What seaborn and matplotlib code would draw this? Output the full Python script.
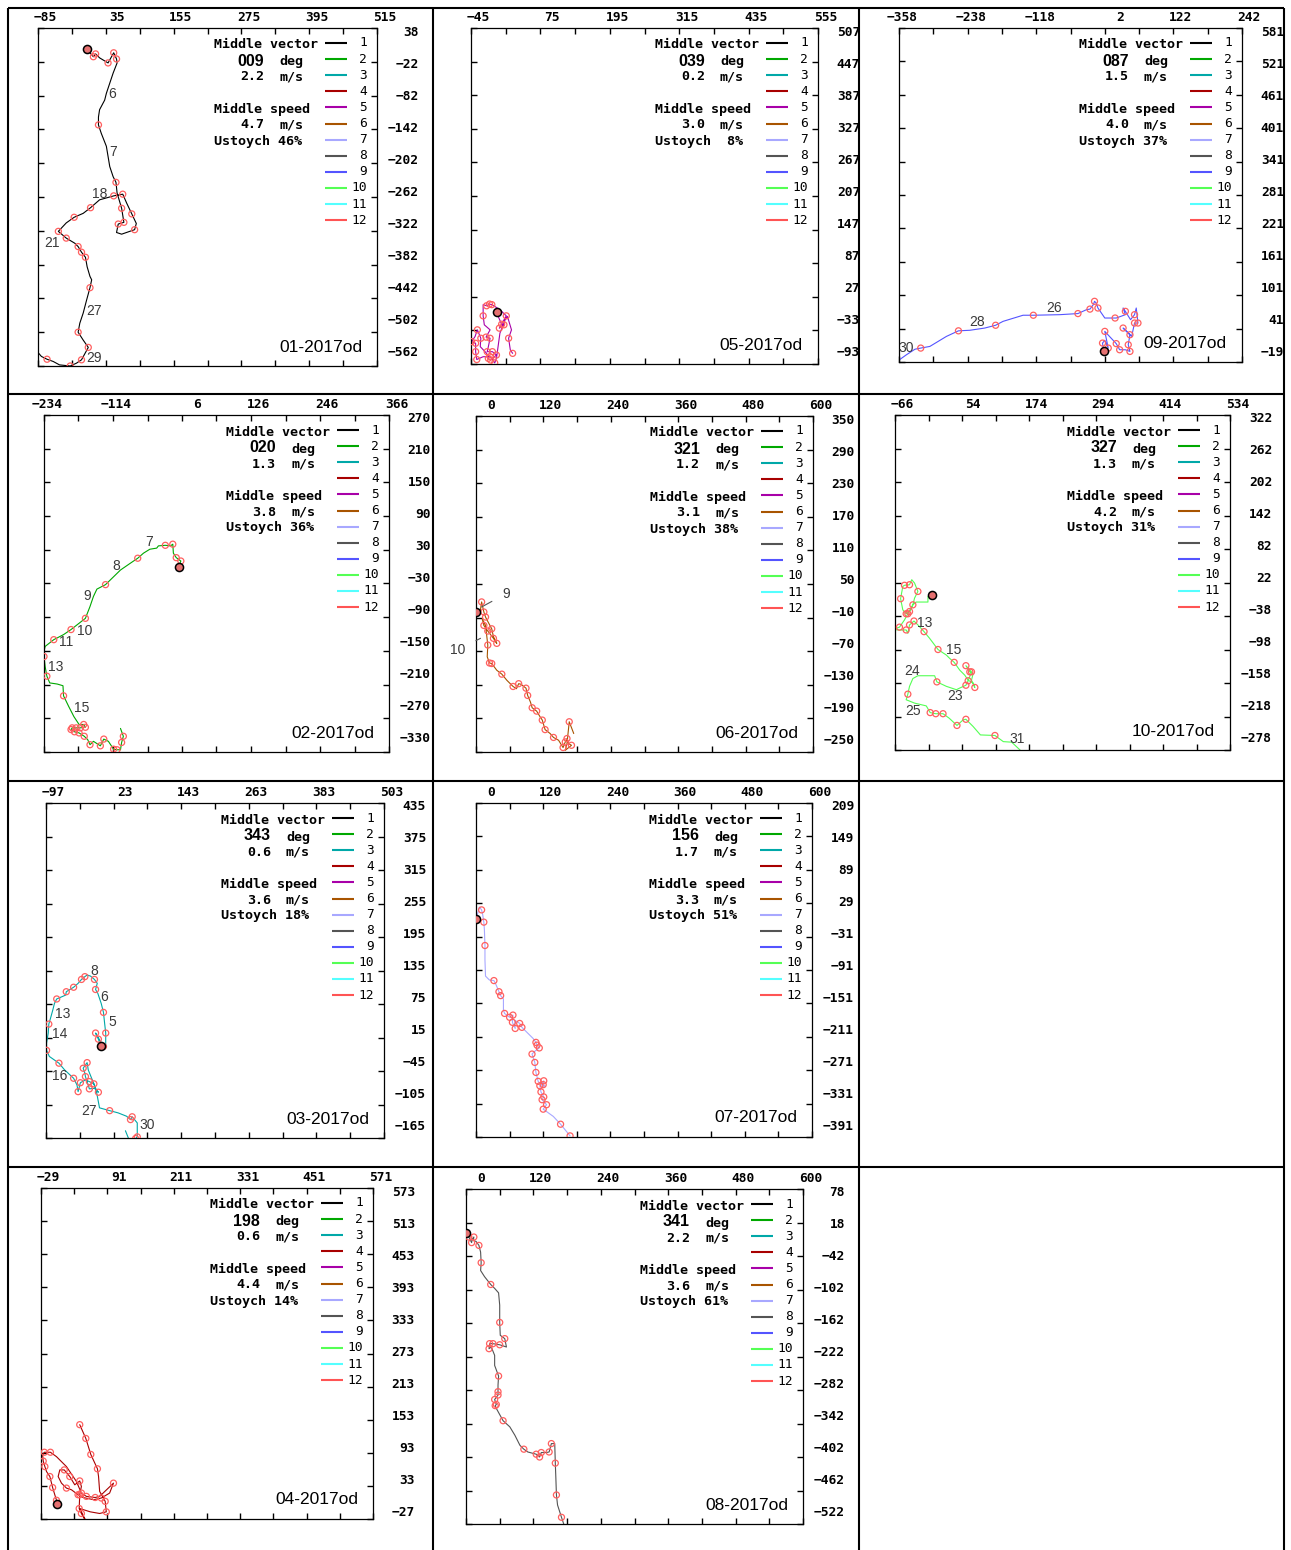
import matplotlib
matplotlib.use("Agg")
import matplotlib.pyplot as plt
from matplotlib import transforms as mtransforms
from matplotlib.patches import Rectangle
import seaborn as sns

# ---------------------------------------------------------------- data
MONTH_NAMES = [str(i) for i in range(1, 13)]
MONTH_COLORS = ["#000000", "#00a800", "#00a8a8", "#a80000", "#a800a8", "#a85400",
                "#a8a8ff", "#545454", "#5454ff", "#54ff54", "#54ffff", "#ff5454"]

PANEL_IDS = ["01", "05", "09", "02", "06", "10", "03", "07", "04", "08"]
PANEL_MONTH = [1, 5, 9, 2, 6, 10, 3, 7, 4, 8]
VECTOR_DIR = ["009", "039", "087", "020", "321", "327", "343", "156", "198", "341"]
VECTOR_SPEED = ["2.2", "0.2", "1.5", "1.3", "1.2", "1.3", "0.6", "1.7", "0.6", "2.2"]
MEAN_SPEED = ["4.7", "3.0", "4.0", "3.8", "3.1", "4.2", "3.6", "3.3", "4.4", "3.6"]
USTOYCH = [46, 8, 37, 36, 38, 31, 18, 51, 14, 61]
X_START = [-85, -45, -358, -234, 0, -66, -97, 0, -29, 0]
Y_TOP = [38, 507, 581, 270, 350, 322, 435, 209, 573, 78]
AXIS_SPAN = 600
AXIS_STEP = 60

# progressive vector tracks (km east, km north); DAILY marks the daily positions
TRACK01_X = [1, 13, 17, 24, 39, 49, 54, 55, 48, 42,
             36, 33, 24, 22, 22, 27, 36, 39, 42, 48,
             53, 55, 63, 67, 57, 54, 63, 86, 89, 81,
             72, 65, 49, 24, 8, -5, -21, -35, -49, -35,
             -20, -14, -8, -1, 2, 7, 10, 7, 1, -5,
             -11, -14, -5, 4, -2, -8, -17, -28, -47, -58,
             -69, -79, -85]
TRACK01_Y = [1, -13, -8, -15, -24, -6, -17, -24, -42, -60,
             -78, -90, -107, -120, -134, -149, -172, -190, -208, -226,
             -236, -255, -282, -307, -310, -325, -328, -320, -309, -292,
             -273, -257, -260, -267, -281, -291, -298, -308, -323, -335,
             -344, -350, -360, -369, -386, -403, -409, -423, -445, -468,
             -486, -502, -516, -529, -540, -551, -557, -562, -560, -554,
             -550, -545, -538]
TRACK01_DAILY = [0, 1, 1, 0, 1, 1, 1, 0, 0, 0,
                 0, 0, 0, 0, 1, 0, 0, 0, 0, 0,
                 1, 0, 1, 1, 1, 0, 0, 1, 0, 1,
                 0, 1, 1, 0, 1, 0, 1, 0, 1, 1,
                 0, 1, 1, 1, 0, 0, 0, 1, 0, 0,
                 0, 1, 0, 1, 0, 1, 0, 1, 0, 0,
                 1, 0, 0]
DAYS01 = ["6", "7", "18", "21", "27", "29"]
DAYS01_X = [46, 48, 24, -60, 14, 14]
DAYS01_Y = [-80, -182, -257, -344, -464, -548]

TRACK05_X = [0, 2, 8, 12, 4, 16, 5, -9, -13, -18,
             -24, -24, -22, -12, -19, -12, -15, -17, -8, -1,
             -11, -15, -18, -29, -28, -34, -38, -44, -37, -37,
             -35, -24, -12, -4, -1, 5, 14, 18, 25, 20,
             23, 27]
TRACK05_Y = [0, -8, -22, -23, -29, -7, 4, 13, 14, 11,
             13, -7, -23, -32, -45, -47, -62, -71, -71, -77,
             -86, -83, -74, -62, -47, -32, -44, -53, -56, -71,
             -85, -80, -80, -91, -83, -38, -14, -8, -32, -47,
             -68, -74]
TRACK05_DAILY = [0, 0, 1, 1, 1, 1, 0, 1, 1, 1,
                 0, 1, 0, 0, 1, 1, 0, 1, 1, 1,
                 1, 1, 0, 0, 1, 1, 0, 1, 1, 1,
                 1, 0, 1, 1, 0, 0, 0, 0, 0, 1,
                 0, 1]
DAYS05 = []
DAYS05_X = []
DAYS05_Y = []

TRACK09_X = [0, -2, 2, 8, 2, 22, 28, 38, 46, 43,
             46, 34, 49, 54, 60, 57, 54, 47, 38, 34,
             38, 22, 20, 2, -4, -10, -13, -16, -18, -24,
             -30, -45, -77, -123, -141, -176, -189, -208, -234, -254,
             -275, -304, -320, -330, -345, -360]
TRACK09_Y = [0, 15, 20, 6, 36, 14, 3, 3, 0, 12,
             30, 42, 27, 51, 51, 78, 66, 57, 72, 78,
             66, 60, 60, 60, 69, 78, 87, 90, 84, 76,
             75, 68, 66, 65, 65, 54, 47, 42, 38, 37,
             27, 9, 6, 4, -6, -17]
TRACK09_DAILY = [0, 1, 0, 1, 1, 1, 1, 0, 1, 1,
                 1, 1, 0, 1, 1, 0, 1, 0, 1, 0,
                 0, 0, 1, 0, 0, 1, 0, 1, 0, 1,
                 0, 1, 0, 1, 0, 0, 1, 0, 0, 1,
                 0, 0, 1, 0, 0, 0]
DAYS09 = ["26", "28", "30"]
DAYS09_X = [-87, -222, -345]
DAYS09_Y = [78, 52, 7]

TRACK02_X = [0, 4, -4, -9, -10, -14, -23, -35, -38, -50,
             -61, -71, -84, -101, -127, -142, -148, -154, -162, -177,
             -187, -200, -217, -232, -234, -234, -232, -229, -224, -211,
             -201, -200, -191, -182, -173, -165, -162, -171, -178, -185,
             -187, -181, -173, -164, -158, -154, -148, -136, -130, -122,
             -113, -107, -101, -99, -96, -101]
TRACK02_Y = [0, 10, 16, 24, 40, 37, 38, 37, 33, 31,
             24, 15, 6, -6, -32, -40, -53, -71, -92, -104,
             -112, -121, -130, -142, -151, -160, -178, -195, -207, -209,
             -212, -230, -249, -267, -281, -281, -286, -287, -287, -287,
             -290, -294, -296, -302, -308, -317, -311, -319, -307, -311,
             -325, -326, -326, -313, -302, -288]
TRACK02_DAILY = [0, 1, 1, 0, 1, 0, 1, 0, 0, 0,
                 0, 1, 0, 0, 1, 0, 0, 0, 1, 0,
                 1, 0, 1, 0, 0, 1, 0, 1, 0, 0,
                 0, 1, 0, 0, 0, 1, 1, 1, 1, 1,
                 1, 1, 1, 1, 0, 1, 0, 1, 1, 0,
                 1, 1, 0, 1, 1, 0]
DAYS02 = ["7", "8", "9", "10", "11", "13", "15"]
DAYS02_X = [-51, -108, -159, -163, -195, -214, -169]
DAYS02_Y = [43, 1, -52, -114, -134, -178, -251]

TRACK06_X = [0, 7, 10, 14, 17, 20, 28, 31, 37, 31,
             21, 14, 11, 17, 21, 20, 24, 28, 37, 46,
             55, 66, 72, 76, 80, 89, 92, 97, 100, 108,
             114, 118, 123, 132, 138, 147, 155, 159, 162, 165,
             170, 159, 162, 166, 174]
TRACK06_Y = [0, -2, 18, 0, -9, -15, -30, -44, -56, -47,
             -34, -24, -12, -24, -59, -80, -91, -92, -104, -111,
             -122, -133, -137, -128, -129, -136, -149, -161, -171, -177,
             -187, -193, -210, -217, -224, -229, -242, -232, -226, -235,
             -238, -247, -235, -196, -217]
TRACK06_DAILY = [0, 0, 1, 1, 1, 0, 1, 0, 1, 1,
                 1, 1, 0, 0, 1, 0, 1, 1, 0, 1,
                 0, 1, 0, 1, 0, 1, 1, 0, 1, 1,
                 0, 1, 1, 0, 1, 0, 1, 1, 1, 0,
                 1, 0, 0, 1, 0]
DAYS06 = ["9", "10"]
DAYS06_X = [54, -33]
DAYS06_Y = [33, -68]
CALLOUT06_X = [10, 8]
CALLOUT06_Y = [9, -47]

TRACK10_X = [0, -7, -7, -28, -34, -40, -46, -52, -56, -52,
             -49, -40, -36, -31, -25, -31, -34, -43, -49, -58,
             -64, -70, -60, -46, -43, -40, -32, -25, -14, -4,
             11, 26, 32, 40, 50, 59, 65, 74, 77, 71,
             74, 68, 61, 71, 65, 61, 50, 44, 26, 9,
             5, -25, -34, -40, -43, -46, -31, -10, -3, 7,
             20, 31, 45, 56, 61, 74, 87, 113, 128, 143,
             158]
TRACK10_Y = [0, -3, -13, -13, -18, -30, -34, -27, -7, 15,
             17, 18, 27, 21, 6, -6, -18, -34, -45, -58,
             -60, -62, -63, -63, -69, -54, -47, -54, -66, -78,
             -98, -108, -114, -121, -135, -144, -153, -158, -166, -153,
             -141, -138, -127, -138, -154, -162, -167, -170, -164, -156,
             -145, -145, -150, -164, -178, -188, -194, -199, -211, -213,
             -213, -221, -234, -224, -223, -236, -251, -252, -263, -264,
             -278]
TRACK10_DAILY = [0, 0, 0, 0, 1, 1, 1, 0, 1, 0,
                 1, 1, 0, 0, 1, 0, 0, 1, 0, 1,
                 0, 0, 0, 1, 0, 1, 1, 0, 1, 0,
                 1, 0, 0, 1, 0, 0, 0, 0, 1, 0,
                 0, 1, 1, 1, 1, 1, 0, 0, 0, 1,
                 0, 0, 0, 0, 1, 0, 0, 0, 1, 1,
                 1, 0, 1, 0, 1, 0, 0, 1, 0, 0,
                 0]
DAYS10 = ["13", "15", "24", "23", "25", "31"]
DAYS10_X = [-12, 39, -35, 41, -33, 152]
DAYS10_Y = [-50, -99, -136, -181, -208, -258]

TRACK03_X = [0, -4, -9, -2, 5, 9, 9, 7, 5, 1,
             -5, -9, -6, -11, -18, -24, -28, -34, -40, -48,
             -61, -62, -78, -82, -85, -88, -92, -93, -96, -96,
             -91, -74, -64, -48, -42, -40, -36, -27, -20, -12,
             -8, -4, -11, -20, -27, -28, -31, -27, -24, -22,
             -12, -8, -2, 16, 31, 46, 53, 56, 65, 65,
             62, 52, 44]
TRACK03_Y = [0, 12, 23, 11, -1, 2, 23, 41, 60, 76,
             94, 101, 112, 119, 125, 127, 124, 119, 112, 105,
             97, 91, 84, 76, 64, 53, 39, 23, 5, -8,
             -19, -31, -43, -58, -70, -82, -66, -61, -64, -68,
             -79, -83, -76, -77, -55, -49, -40, -34, -30, -43,
             -68, -79, -111, -116, -120, -126, -132, -127, -138, -163,
             -166, -172, -152]
TRACK03_DAILY = [0, 1, 1, 0, 1, 0, 1, 0, 1, 0,
                 0, 1, 0, 1, 0, 0, 1, 1, 0, 1,
                 1, 0, 1, 0, 0, 0, 1, 0, 0, 1,
                 0, 1, 0, 1, 0, 1, 1, 0, 1, 0,
                 0, 1, 0, 1, 1, 0, 1, 0, 1, 0,
                 1, 0, 0, 1, 0, 0, 1, 1, 0, 1,
                 1, 0, 0]
DAYS03 = ["8", "6", "5", "13", "14", "16", "27", "30"]
DAYS03_X = [-12, 7, 21, -68, -73, -72, -20, 83]
DAYS03_Y = [135, 87, 42, 57, 21, -54, -116, -142]

TRACK07_X = [0, 4, 6, 10, 12, 14, 15, 16, 16, 17,
             24, 32, 36, 41, 44, 49, 49, 51, 60, 66,
             65, 70, 69, 78, 82, 90, 102, 107, 109, 113,
             105, 100, 105, 107, 111, 117, 121, 120, 124, 114,
             116, 121, 118, 126, 120, 138, 151, 168]
TRACK07_Y = [0, 14, 22, 17, 8, -5, -19, -47, -73, -102,
             -109, -110, -118, -130, -137, -143, -163, -169, -176, -172,
             -185, -196, -181, -187, -194, -202, -214, -221, -226, -231,
             -237, -242, -257, -275, -291, -297, -290, -297, -300, -299,
             -310, -319, -324, -333, -341, -354, -368, -389]
TRACK07_DAILY = [0, 0, 0, 1, 0, 1, 0, 1, 0, 0,
                 0, 1, 0, 1, 1, 0, 0, 1, 1, 1,
                 1, 1, 0, 1, 1, 0, 0, 1, 1, 1,
                 0, 1, 1, 1, 1, 0, 1, 1, 0, 1,
                 1, 1, 1, 1, 1, 0, 1, 1]
DAYS07 = []
DAYS07_X = []
DAYS07_Y = []

TRACK04_X = [0, -1, -5, -8, -13, -19, -22, -25, -26, -23,
             -12, -1, 17, 35, 44, 53, 69, 77, 102, 95,
             80, 66, 47, 38, 26, 17, 8, 2, 5, 13,
             23, 32, 41, 44, 41, 40, 44, 49, 53, 41,
             60, 77, 89, 87, 77, 75, 73, 61, 52, 41]
TRACK04_Y = [0, 7, 20, 30, 50, 59, 68, 78, 89, 94,
             94, 86, 68, 41, 20, 14, 12, 14, 38, 20,
             11, 8, 12, 17, 26, 29, 38, 50, 62, 62,
             50, 35, 42, 32, 17, -8, -17, -26, -32, -8,
             -14, -17, -14, 5, 23, 50, 64, 90, 119, 144]
TRACK04_DAILY = [0, 1, 0, 1, 1, 0, 1, 1, 0, 1,
                 1, 0, 0, 0, 1, 1, 1, 0, 1, 0,
                 1, 0, 0, 1, 0, 1, 0, 0, 0, 1,
                 1, 0, 1, 0, 1, 1, 1, 0, 0, 0,
                 0, 0, 1, 1, 0, 0, 1, 1, 1, 1]
DAYS04 = []
DAYS04_X = []
DAYS04_Y = []

TRACK08_X = [0, 5, 10, 11, 14, 13, 18, 23, 26, 27,
             26, 33, 44, 51, 58, 60, 60, 61, 69, 72,
             60, 48, 42, 41, 45, 51, 51, 58, 57, 57,
             57, 51, 54, 52, 54, 66, 78, 87, 96, 103,
             110, 125, 131, 134, 143, 148, 152, 158, 159, 160,
             161, 163, 170, 175]
TRACK08_Y = [0, -8, -18, -12, -8, -14, -16, -23, -35, -54,
             -68, -79, -93, -100, -108, -130, -161, -184, -190, -205,
             -201, -199, -199, -208, -205, -220, -238, -257, -273, -285,
             -291, -299, -308, -310, -315, -337, -348, -363, -381, -388,
             -393, -397, -402, -394, -394, -393, -378, -378, -413, -440,
             -470, -488, -510, -525]
TRACK08_DAILY = [0, 1, 1, 0, 1, 0, 0, 1, 0, 1,
                 0, 0, 1, 0, 0, 0, 1, 0, 1, 0,
                 1, 1, 1, 1, 0, 0, 0, 1, 0, 1,
                 1, 1, 1, 1, 0, 1, 0, 0, 0, 1,
                 0, 1, 1, 1, 0, 1, 1, 0, 1, 0,
                 1, 0, 1, 0]
DAYS08 = []
DAYS08_X = []
DAYS08_Y = []

TRACKS = {
    "01": (TRACK01_X, TRACK01_Y, TRACK01_DAILY, DAYS01, DAYS01_X, DAYS01_Y),
    "05": (TRACK05_X, TRACK05_Y, TRACK05_DAILY, DAYS05, DAYS05_X, DAYS05_Y),
    "09": (TRACK09_X, TRACK09_Y, TRACK09_DAILY, DAYS09, DAYS09_X, DAYS09_Y),
    "02": (TRACK02_X, TRACK02_Y, TRACK02_DAILY, DAYS02, DAYS02_X, DAYS02_Y),
    "06": (TRACK06_X, TRACK06_Y, TRACK06_DAILY, DAYS06, DAYS06_X, DAYS06_Y),
    "10": (TRACK10_X, TRACK10_Y, TRACK10_DAILY, DAYS10, DAYS10_X, DAYS10_Y),
    "03": (TRACK03_X, TRACK03_Y, TRACK03_DAILY, DAYS03, DAYS03_X, DAYS03_Y),
    "07": (TRACK07_X, TRACK07_Y, TRACK07_DAILY, DAYS07, DAYS07_X, DAYS07_Y),
    "04": (TRACK04_X, TRACK04_Y, TRACK04_DAILY, DAYS04, DAYS04_X, DAYS04_Y),
    "08": (TRACK08_X, TRACK08_Y, TRACK08_DAILY, DAYS08, DAYS08_X, DAYS08_Y),
}

# ---------------------------------------------------------------- layout (pixels)
FIG_W, FIG_H = 1291, 1550
COL_EDGES = [8, 433, 859, 1284]
ROW_EDGES = [8, 394, 781, 1167, 1550]
CELL_OF = {"01": (0, 0), "05": (0, 1), "09": (0, 2),
           "02": (1, 0), "06": (1, 1), "10": (1, 2),
           "03": (2, 0), "07": (2, 1),
           "04": (3, 0), "08": (3, 1)}
BOX_OF = {"01": (38, 28, 377, 366), "05": (471, 28, 818, 364), "09": (899, 28, 1242, 362),
          "02": (44, 415, 389, 752), "06": (476, 416, 813, 752), "10": (895, 415, 1230, 750),
          "03": (46, 803, 384, 1138), "07": (476, 803, 812, 1137),
          "04": (41, 1188, 373, 1519), "08": (466, 1189, 803, 1524)}

MONO = "DejaVu Sans Mono"
SANS = "Liberation Sans"
CIRCLE_COLOR = "#ff5f5f"
DAY_COLOR = "#3a3a3a"

sns.set_theme(style="white")
plt.rcParams["font.family"] = ["DejaVu Sans"]
plt.rcParams["axes.unicode_minus"] = True

fig = plt.figure(figsize=(FIG_W / 100, FIG_H / 100), dpi=100, facecolor="white")


def fmt(v):
    return str(v).replace("-", "\u2212")


for i, pid in enumerate(PANEL_IDS):
    left, top, right, bottom = BOX_OF[pid]
    ax = fig.add_axes([left / FIG_W, 1 - bottom / FIG_H,
                       (right - left) / FIG_W, (bottom - top) / FIG_H])
    x0, y1 = X_START[i], Y_TOP[i]
    ax.set_xlim(x0, x0 + AXIS_SPAN)
    ax.set_ylim(y1 - AXIS_SPAN, y1)

    tx, ty, daily, days, dx, dy = TRACKS[pid]
    color = MONTH_COLORS[PANEL_MONTH[i] - 1]
    sns.lineplot(x=tx, y=ty, sort=False, estimator=None, color=color,
                 linewidth=0.8, ax=ax, zorder=2)
    mx = [x for x, m in zip(tx, daily) if m]
    my = [y for y, m in zip(ty, daily) if m]
    sns.scatterplot(x=mx, y=my, marker="o", s=19, facecolor="none",
                    edgecolor=CIRCLE_COLOR, linewidth=0.9, ax=ax, zorder=3)
    sns.scatterplot(x=tx[:1], y=ty[:1], marker="o", s=34, facecolor="#e57070",
                    edgecolor="black", linewidth=1.1, ax=ax, zorder=4)

    if pid == "06":
        for lab, lx, ly, px, py in zip(days, dx, dy, CALLOUT06_X, CALLOUT06_Y):
            ax.annotate(lab, xy=(px, py), xytext=(lx, ly), ha="center", va="center",
                        fontsize=10, family=SANS, color=DAY_COLOR,
                        arrowprops=dict(arrowstyle="-", color="#555555", lw=0.8,
                                        shrinkA=6, shrinkB=0))
    else:
        for lab, lx, ly in zip(days, dx, dy):
            ax.text(lx, ly, lab, ha="center", va="center", fontsize=10,
                    family=SANS, color=DAY_COLOR, zorder=5)

    xt = [x0 + AXIS_STEP * k for k in range(11)]
    yt = [y1 - AXIS_STEP * k for k in range(11)]
    ax.set_xticks(xt[::2], labels=[fmt(v) for v in xt[::2]])
    ax.set_xticks(xt[1::2], minor=True)
    ax.set_yticks(yt, labels=[""] * len(yt))
    ax.tick_params(axis="both", which="both", direction="in", length=4.5, width=1.0,
                   color="black", top=True, bottom=True, left=True, right=True,
                   labelbottom=False, labeltop=True, labelleft=False, labelright=False)
    ax.tick_params(axis="x", which="major", pad=3.2, labelsize=9.3,
                   labelfontfamily=MONO, labelcolor="black")
    shift = mtransforms.ScaledTranslation(19 / 100, 0, fig.dpi_scale_trans)
    for lab in ax.get_xticklabels():
        lab.set_horizontalalignment("right")
        lab.set_fontweight("bold")
        lab.set_transform(lab.get_transform() + shift)
    ax.set_xlabel("")
    ax.set_ylabel("")
    ax.grid(False)
    for sp in ax.spines.values():
        sp.set_color("black")
        sp.set_linewidth(0.9)

# ---------------------------------------------------------------- frame, legends, labels
ov = fig.add_axes([0, 0, 1, 1], zorder=10)
ov.set_xlim(0, FIG_W)
ov.set_ylim(FIG_H, 0)
ov.axis("off")
ov.patch.set_visible(False)

ov.vlines(COL_EDGES, ROW_EDGES[0], ROW_EDGES[-1], color="black", lw=1.5)
ov.hlines(ROW_EDGES[:-1], COL_EDGES[0], COL_EDGES[-1], color="black", lw=1.5)

bold_mono = dict(family=MONO, weight="bold", fontsize=9.6, color="black", va="center")
for i, pid in enumerate(PANEL_IDS):
    left, top, right, bottom = BOX_OF[pid]
    r, c = CELL_OF[pid]
    clip = Rectangle((COL_EDGES[c], ROW_EDGES[r]), COL_EDGES[c + 1] - COL_EDGES[c],
                     ROW_EDGES[r + 1] - ROW_EDGES[r], transform=ov.transData)

    # right-hand northing labels
    for k in range(11):
        t = ov.text(right + 42, top + 4 + 32 * k, fmt(Y_TOP[i] - AXIS_STEP * k),
                    ha="right", va="center", family=MONO, weight="bold",
                    fontsize=9.3, color="black")
        t.set_clip_path(clip)

    # summary block
    ov.text(right - 163, top + 17, "Middle vector", ha="left", **bold_mono)
    ov.text(right - 113, top + 33, VECTOR_DIR[i], ha="right", va="center",
            family=SANS, weight="bold", fontsize=11.5, color="black")
    ov.text(right - 98, top + 34, "deg", ha="left", **bold_mono)
    ov.text(right - 113, top + 49, VECTOR_SPEED[i], ha="right", **bold_mono)
    ov.text(right - 98, top + 49, "m/s", ha="left", **bold_mono)
    ov.text(right - 163, top + 81, "Middle speed", ha="left", **bold_mono)
    ov.text(right - 113, top + 97, MEAN_SPEED[i], ha="right", **bold_mono)
    ov.text(right - 98, top + 97, "m/s", ha="left", **bold_mono)
    ov.text(right - 163, top + 113, f"Ustoych {USTOYCH[i]:2d}%", ha="left", **bold_mono)

    # month colour key
    for k, (name, col) in enumerate(zip(MONTH_NAMES, MONTH_COLORS)):
        yk = top + 15 + 16.1 * k
        ov.plot([right - 52, right - 30], [yk, yk], color=col, lw=1.5,
                solid_capstyle="butt")
        ov.text(right - 10, yk, name, ha="right", va="center", family=MONO,
                fontsize=9.3, color="black")

    # panel name
    ov.text(right - 15, bottom - 19, f"{pid}-2017od", ha="right", va="center",
            family=SANS, fontsize=12.5, color="black")

fig.savefig("out.png", dpi=100, facecolor="white")
